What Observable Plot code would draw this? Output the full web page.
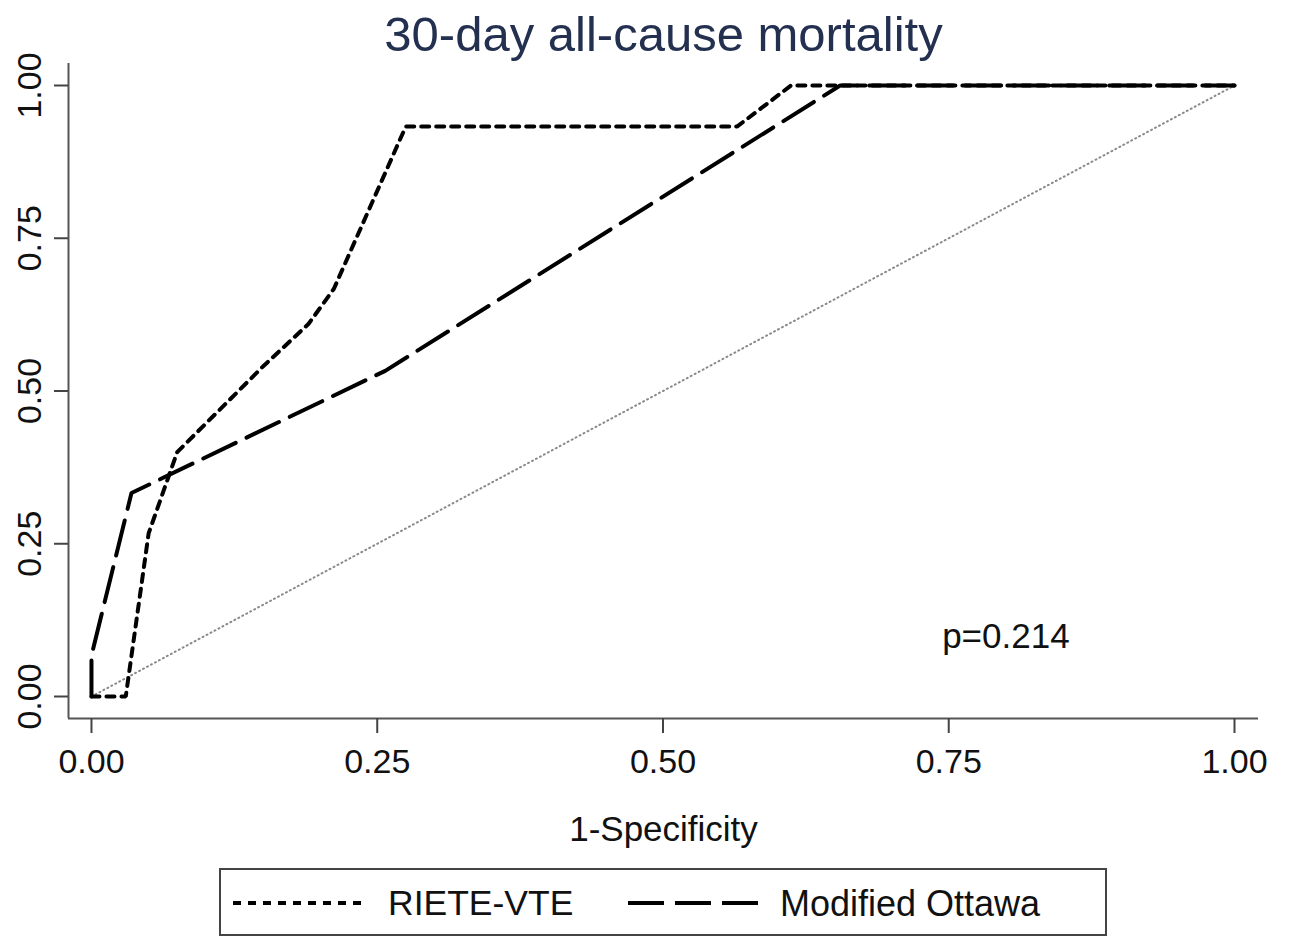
<!DOCTYPE html>
<html>
<head>
<meta charset="utf-8">
<script src="https://cdn.jsdelivr.net/npm/d3@7"></script>
<script src="https://cdn.jsdelivr.net/npm/@observablehq/plot@0.6"></script>
<style>
  html, body { margin: 0; padding: 0; background: #fff; }
  #wrap { position: relative; width: 1290px; height: 941px; font-family: "Liberation Sans", Arial, sans-serif; }
  #legend { position: absolute; left: 219px; top: 868px; width: 884px; height: 64px; border: 2px solid #444; box-sizing: content-box; }
  #legend svg { position: absolute; left: 0; top: 0; }
</style>
</head>
<body>
<div id="wrap"></div>
<script>
// ---- data ----
const titleText = "30-day all-cause mortality";
const xLabel = "1-Specificity";
const seriesNames = ["RIETE-VTE", "Modified Ottawa"];
const rieteFPR = [0, 0.03, 0.045, 0.05, 0.075, 0.15, 0.19, 0.212, 0.275, 0.565, 0.612, 1];
const rieteTPR = [0, 0, 0.2, 0.267, 0.4, 0.54, 0.61, 0.667, 0.933, 0.933, 1, 1];
const ottawaFPR = [0, 0, 0.035, 0.257, 0.655, 1];
const ottawaTPR = [0, 0.067, 0.333, 0.533, 1, 1];
const refFPR = [0, 1];
const refTPR = [0, 1];
const xTicks = [0, 0.25, 0.5, 0.75, 1];
const yTicks = [0, 0.25, 0.5, 0.75, 1];
const pText = ["p=0.214"];
const pPos = {x: 0.80, y: 0.097};

// ---- build ----
const riete = rieteFPR.map((x, i) => ({x, y: rieteTPR[i]}));
const ottawa = ottawaFPR.map((x, i) => ({x, y: ottawaTPR[i]}));
const ref = refFPR.map((x, i) => ({x, y: refTPR[i]}));
const xDomain = [-0.0201, 1.021];
const yDomain = [-0.036, 1.036];
const fmt = d3.format(".2f");
const FONT = "'Liberation Sans', Arial, sans-serif";

const chart = Plot.plot({
  width: 1290,
  height: 941,
  marginLeft: 68,
  marginRight: 32,
  marginTop: 63,
  marginBottom: 223,
  style: {fontFamily: FONT, color: "#111", background: "#fff"},
  x: {domain: xDomain},
  y: {domain: yDomain},
  marks: [
    Plot.line(ref, {x: "x", y: "y", stroke: "#8a8a8a", strokeWidth: 2, strokeDasharray: "1,3.5"}),
    Plot.line(ottawa, {x: "x", y: "y", stroke: "#000", strokeWidth: 4, strokeDasharray: "36,12", strokeLinejoin: "miter"}),
    Plot.line(riete, {x: "x", y: "y", stroke: "#000", strokeWidth: 4, strokeDasharray: "8,7", strokeLinejoin: "miter"}),
    Plot.ruleY([yDomain[0]], {stroke: "#555", strokeWidth: 2}),
    Plot.ruleX([xDomain[0]], {stroke: "#555", strokeWidth: 2}),
    Plot.axisX({ticks: xTicks, tickFormat: fmt, tickSize: 15, tickPadding: 15, fontSize: 34, stroke: "#444", strokeWidth: 2, label: null, anchor: "bottom"}),
    Plot.axisY({ticks: yTicks, tickFormat: () => "", tickSize: 14, tickPadding: 0, stroke: "#444", strokeWidth: 2, label: null, anchor: "left"}),
    Plot.text(yTicks, {x: () => xDomain[0], y: d => d, text: d => fmt(d), rotate: -90, dx: -38, fontSize: 34, fill: "#111"}),
    Plot.text(pText, {x: () => pPos.x, y: () => pPos.y, text: d => d, fontSize: 35, fill: "#111"}),
    Plot.text([xLabel], {frameAnchor: "bottom", text: d => d, dy: 122, fontSize: 35, fill: "#111"}),
    Plot.text([titleText], {frameAnchor: "top", text: d => d, dy: -13, lineAnchor: "bottom", fontSize: 49, fill: "#24304f"})
  ]
});

const wrap = document.getElementById("wrap");
wrap.appendChild(chart);

// legend
const legend = document.createElement("div");
legend.id = "legend";
legend.innerHTML = `
<svg width="884" height="64">
  <line x1="12" x2="141" y1="33" y2="33" stroke="#000" stroke-width="4" stroke-dasharray="8,7"/>
  <text x="167" y="33" dy="0.35em" font-size="35.5" font-family="${FONT}" fill="#111">${seriesNames[0]}</text>
  <line x1="407" x2="537" y1="33" y2="33" stroke="#000" stroke-width="4" stroke-dasharray="36,11"/>
  <text x="559" y="33" dy="0.35em" font-size="36" font-family="${FONT}" fill="#111">${seriesNames[1]}</text>
</svg>`;
wrap.appendChild(legend);
</script>
</body>
</html>
